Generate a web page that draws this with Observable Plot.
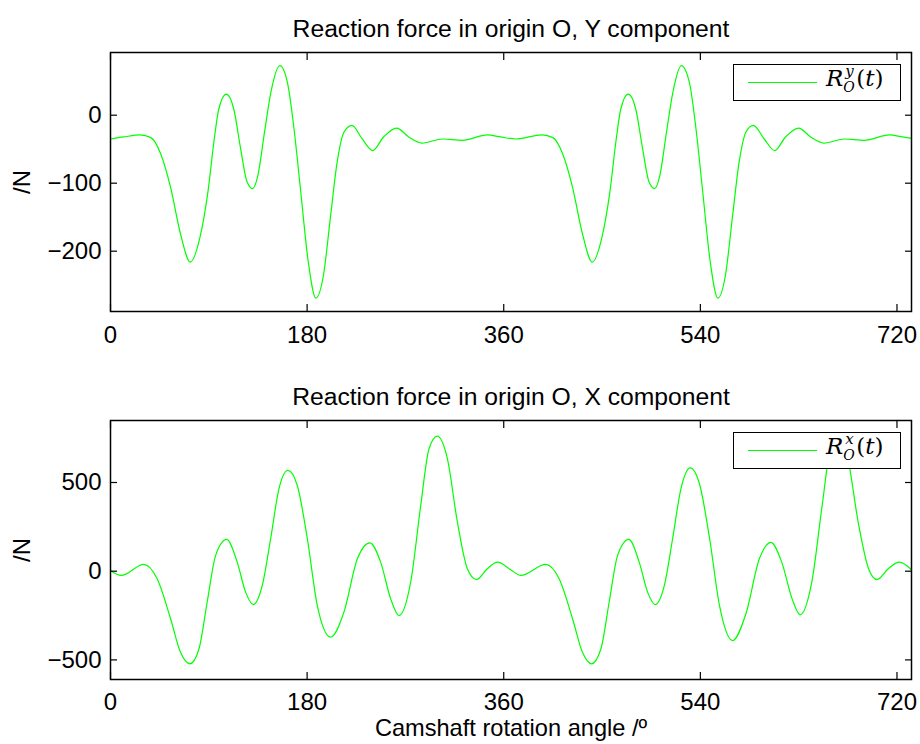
<!DOCTYPE html>
<html>
<head>
<meta charset="utf-8">
<script src="https://cdn.jsdelivr.net/npm/d3@7"></script>
<script src="https://cdn.jsdelivr.net/npm/@observablehq/plot@0.6"></script>
<style>
  html, body { margin: 0; padding: 0; background: #fff; }
  #wrap { position: relative; width: 920px; height: 744px; overflow: hidden; }
  #wrap svg { display: block; }
  .legend { position: absolute; left: 733px; width: 168px; height: 37px; border: 1.5px solid #000;
            box-sizing: border-box; background: #fff; }
  .swatch { position: absolute; left: 14px; top: 17px; width: 69px; height: 1.3px; background: #00ff00; }
  .ltxt { position: absolute; left: 92px; top: 2px; font-family: "DejaVu Serif", "Liberation Serif", serif;
          font-size: 23px; line-height: 1; white-space: nowrap; color: #000; }
  .ltxt i { font-style: italic; }
  .ss { display: inline-block; position: relative; width: 13px; height: 0; }
  .ss .sp { position: absolute; left: 2px; top: -22px; font-size: 15px; line-height: 1; }
  .ss .sb { position: absolute; left: 0px; top: -6px; font-size: 14px; line-height: 1; }
</style>
</head>
<body>
<div id="wrap"></div>
<script>
// ---- data ----
const xTicks = [0, 180, 360, 540, 720];
const yTicksTop = [-200, -100, 0];
const yTicksBottom = [-500, 0, 500];

const titleTop = "Reaction force in origin O, Y component";
const titleBottom = "Reaction force in origin O, X component";
const yLabel = "/N";
const xLabel = "Camshaft rotation angle /\u00BA";

// Y component (N) vs camshaft angle (deg)
const angleY = [0, 12, 27, 37, 46, 55, 64, 73, 82, 89, 95, 99, 106, 113, 119, 125, 130, 135, 141, 147, 155, 162, 168, 174, 181, 188, 195, 201.5, 207.6, 213.7, 221, 230.5, 240, 250, 262, 273, 285, 304, 322, 345, 357, 371,
  395, 405, 414, 423, 432, 441, 450, 457, 463, 467, 474, 481, 487, 493, 498, 503, 509, 515, 522.5, 530, 536, 542, 549, 556, 563, 569.5, 575.6, 581.7, 588.5, 598.5, 608, 618, 630, 641, 653, 672, 690, 713, 725, 733.3];
const forceY = [-35, -32, -29, -33, -57, -106, -174, -216, -179, -115, -35, 8, 31, 8, -48, -98, -108, -88, -25, 35, 73, 48, -20, -110, -215, -269, -235, -148, -68, -25, -15, -35, -52, -32, -19, -32, -41, -35, -37, -29, -32, -35,
  -29, -33, -57, -106, -174, -216, -179, -115, -35, 8, 31, 8, -48, -98, -108, -88, -25, 35, 73, 48, -20, -110, -215, -269, -235, -148, -68, -25, -15, -35, -52, -32, -19, -32, -41, -35, -37, -29, -32, -34];

// X component (N) vs camshaft angle (deg)
const angleX = [0, 9.8, 30.5, 42.7, 55, 64, 72.7, 81, 88.5, 96.2, 106.3, 116, 123.7, 130.7, 138.9, 146.6, 154.2, 162.4, 171, 180.2, 189.3, 201.5, 213.7, 226, 237.5, 247.3, 256.5, 264.1, 274.8, 284, 291.6, 299.2, 308.4, 317.6, 326.7, 335, 345, 354.2, 366,
  375.6, 398.5, 410.7, 423, 432, 440.3, 449, 456.5, 464.2, 474.5, 484, 491.7, 498.6, 507, 514.6, 522.2, 530.7, 539.3, 548.5, 557.5, 569.5, 581.7, 594, 604.6, 614.5, 624, 631.4, 642, 651.5, 659, 666, 675, 684.5, 694, 701.7, 712, 722.1, 733.3];
const forceX = [4, -24, 38, -43, -268, -456, -522, -437, -175, 88, 179, 51, -118, -188, -81, 183, 464, 568, 483, 183, -193, -372, -231, 70, 160, 51, -156, -250, -62, 370, 690, 761, 634, 276, 14, -47, 14, 51, 10,
  -24, 38, -43, -268, -456, -522, -437, -175, 88, 179, 51, -118, -188, -81, 183, 464, 583, 490, 183, -193, -391, -240, 70, 163, 51, -156, -246, -62, 370, 690, 761, 634, 276, 14, -47, 14, 51, 8];

// ---- drawing ----
const FONT = '"Liberation Sans", Arial, Helvetica, sans-serif';

function subplot({angles, values, yDomain, yTicks, title, height, marginTop, marginBottom, xPad, xlab}) {
  const data = angles.map((a, i) => ({a, v: values[i]}));
  return Plot.plot({
    width: 920,
    height,
    marginLeft: 110,
    marginRight: 9,
    marginTop,
    marginBottom,
    style: {fontFamily: FONT, fontSize: "24px", color: "#000", background: "#fff", overflow: "visible"},
    x: {domain: [0, 733.3]},
    y: {domain: yDomain},
    marks: [
      Plot.line(data, {x: "a", y: "v", stroke: "#00ff00", strokeWidth: 1.2, curve: "monotone-x"}),
      Plot.axisX(xTicks, {anchor: "bottom", tickSize: -7, fill: "none", label: null, strokeWidth: 1.2}),
      Plot.axisX(xTicks, {anchor: "top", tickSize: -7, fill: "none", label: null, strokeWidth: 1.2}),
      Plot.axisX(xTicks, {anchor: "bottom", tickSize: 0, tickPadding: xPad, label: null, tickFormat: d => String(d)}),
      Plot.axisY(yTicks, {anchor: "left", tickSize: -7, fill: "none", label: null, strokeWidth: 1.2}),
      Plot.axisY(yTicks, {anchor: "right", tickSize: -7, fill: "none", label: null, strokeWidth: 1.2}),
      Plot.axisY(yTicks, {anchor: "left", tickSize: 0, tickPadding: 9, label: null}),
      Plot.frame({stroke: "#000", strokeWidth: 1.5}),
      Plot.text([title], {text: d => d, frameAnchor: "top", dy: -16, lineAnchor: "bottom", textAnchor: "middle", fontSize: 24.7}),
      Plot.text([yLabel], {text: d => d, frameAnchor: "left", dx: -88, rotate: -90, textAnchor: "middle", lineAnchor: "middle"}),
      xlab ? Plot.text([xlab], {text: d => d, frameAnchor: "bottom", dy: 56, lineAnchor: "bottom", textAnchor: "middle", fontSize: 23.6}) : null
    ]
  });
}

const wrap = document.getElementById("wrap");
wrap.appendChild(subplot({
  angles: angleY, values: forceY, yDomain: [-288.7, 92.2], yTicks: yTicksTop,
  title: titleTop, height: 372, marginTop: 52, marginBottom: 61, xPad: 14
}));
wrap.appendChild(subplot({
  angles: angleX, values: forceX, yDomain: [-610.5, 849.5], yTicks: yTicksBottom,
  title: titleBottom, height: 372, marginTop: 48, marginBottom: 65, xPad: 13, xlab: xLabel
}));

function legend(top, supText) {
  const div = document.createElement("div");
  div.className = "legend";
  div.style.top = top + "px";
  div.innerHTML = '<div class="swatch"></div><div class="ltxt"><i>R</i><span class="ss"><i class="sp">' + supText +
    '</i><i class="sb">O</i></span>(<i>t</i>)</div>';
  wrap.appendChild(div);
}
legend(64, "y");
legend(432, "x");
</script>
</body>
</html>
